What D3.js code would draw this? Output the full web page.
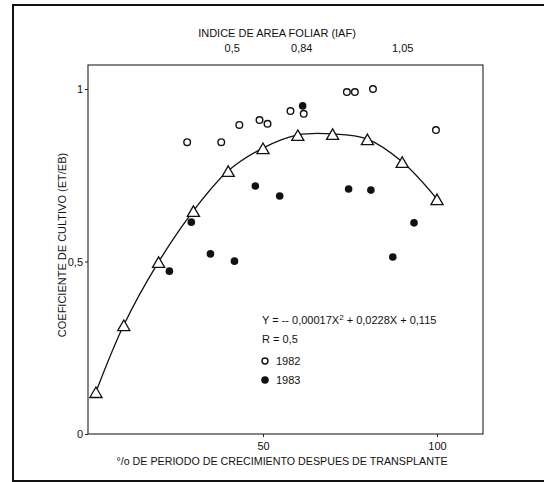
<!DOCTYPE html>
<html><head><meta charset="utf-8">
<script src="https://cdn.jsdelivr.net/npm/d3@7"></script>
<style>
html,body{margin:0;padding:0;background:#fff;}
svg text{font-family:"Liberation Sans Narrow","Arial Narrow","Liberation Sans",Arial,sans-serif;fill:#111;}
</style></head>
<body>
<svg id="chart" width="544" height="482"></svg>
<script>
// ---- data ----
const fitX = [2, 10, 20, 30, 40, 50, 60, 70, 80, 90, 100];
const fitY = [0.116, 0.31, 0.493, 0.641, 0.757, 0.823, 0.861, 0.864, 0.849, 0.783, 0.675];

const x1982 = [28.2, 38.0, 43.2, 49.0, 51.3, 57.9, 61.7, 74.1, 76.4, 81.6, 99.7];
const y1982 = [0.846, 0.846, 0.896, 0.91, 0.899, 0.936, 0.928, 0.991, 0.991, 1.0, 0.881];

const x1983 = [23.1, 29.4, 34.9, 41.8, 47.8, 54.8, 61.4, 74.6, 81.0, 87.3, 93.4];
const y1983 = [0.472, 0.614, 0.522, 0.501, 0.719, 0.69, 0.951, 0.71, 0.707, 0.513, 0.612];

const xTicks = [50, 100];
const yTicks = [0, 0.5, 1];
const yTickLabels = ["0", "0,5", "1"];
const iafPos = [41, 61, 90];
const iafLabels = ["0,5", "0,84", "1,05"];

const eqText = "Y = -- 0,00017X";
const eqRest = " + 0,0228X + 0,115";
const rText = "R =  0,5";
const legendYears = ["1982", "1983"];

// ---- layout ----
const svg = d3.select("#chart");
const x = d3.scaleLinear().domain([0, 100]).range([89, 437]);
const y = d3.scaleLinear().domain([0, 1]).range([434, 89]);
const plotL = 88, plotR = 483, plotT = 65, plotB = 434;
const FF = '"Liberation Sans Narrow","Arial Narrow","Liberation Sans",sans-serif';

// outer frame
svg.append("path")
  .attr("d", `M545,5 H13 V481 H545`)
  .attr("fill", "none").attr("stroke", "#111").attr("stroke-width", 2);

// plot box
svg.append("rect")
  .attr("x", plotL).attr("y", plotT)
  .attr("width", plotR - plotL).attr("height", plotB - plotT)
  .attr("fill", "none").attr("stroke", "#222").attr("stroke-width", 1.1);

// bottom axis
const xAxis = d3.axisBottom(x).tickValues(xTicks).tickSize(3).tickFormat(d3.format("d"));
const gx = svg.append("g").attr("transform", `translate(0,${plotB})`).call(xAxis);
gx.select(".domain").remove();
gx.selectAll("line").attr("stroke", "#222");
gx.selectAll("text").attr("font-size", 11).attr("dy", "0.95em").attr("fill", "#111").style("font-family", FF);

// left axis
const yAxis = d3.axisLeft(y).tickValues(yTicks).tickSize(3).tickFormat((d, i) => yTickLabels[i]);
const gy = svg.append("g").attr("transform", `translate(${plotL},0)`).call(yAxis);
gy.select(".domain").remove();
gy.selectAll("line").attr("stroke", "#222");
gy.selectAll("text").attr("font-size", 11).attr("x", -5).attr("fill", "#111").style("font-family", FF);

// top axis (IAF)
const xTop = d3.axisTop(x).tickValues(iafPos).tickSize(0).tickFormat((d, i) => iafLabels[i]);
const gt = svg.append("g").attr("transform", `translate(0,${plotT - 10})`).call(xTop);
gt.select(".domain").remove();
gt.selectAll("text").attr("font-size", 11).attr("fill", "#111").style("font-family", FF);

svg.append("text").attr("x", 277).attr("y", 37).attr("text-anchor", "middle")
  .attr("font-size", 11).text("INDICE DE AREA FOLIAR (IAF)");

svg.append("text").attr("x", 282).attr("y", 465).attr("text-anchor", "middle")
  .attr("font-size", 10.7).text("°/o DE PERIODO DE CRECIMIENTO DESPUES DE TRANSPLANTE");

svg.append("text").attr("transform", "translate(66,245) rotate(-90)").attr("text-anchor", "middle")
  .attr("font-size", 11).text("COEFICIENTE DE CULTIVO (ET/EB)");

// fitted curve through triangles
const fitData = fitX.map((d, i) => [d, fitY[i]]);
svg.append("path").datum(fitData)
  .attr("d", d3.line().x(d => x(d[0])).y(d => y(d[1]) - 2).curve(d3.curveCatmullRom))
  .attr("fill", "none").attr("stroke", "#111").attr("stroke-width", 1.3);

const tri = d3.symbol().type(d3.symbolTriangle).size(64);
svg.append("g").selectAll("path").data(fitData).join("path")
  .attr("transform", d => `translate(${x(d[0])},${y(d[1])})`)
  .attr("d", tri).attr("fill", "#fff").attr("stroke", "#111").attr("stroke-width", 1.3);

// 1982 open circles
svg.append("g").selectAll("circle").data(x1982.map((d, i) => [d, y1982[i]])).join("circle")
  .attr("cx", d => x(d[0])).attr("cy", d => y(d[1])).attr("r", 3.3)
  .attr("fill", "#fff").attr("stroke", "#111").attr("stroke-width", 1.4);

// 1983 filled circles
svg.append("g").selectAll("circle").data(x1983.map((d, i) => [d, y1983[i]])).join("circle")
  .attr("cx", d => x(d[0])).attr("cy", d => y(d[1])).attr("r", 3.8)
  .attr("fill", "#111");

// equation & legend
const eq = svg.append("text").attr("x", 262).attr("y", 324).attr("font-size", 11);
eq.append("tspan").text(eqText);
eq.append("tspan").attr("dy", -4).attr("font-size", 8).text("2");
eq.append("tspan").attr("dy", 4).text(eqRest);

svg.append("text").attr("x", 262).attr("y", 343).attr("font-size", 11).text(rText);

const leg = svg.append("g");
legendYears.forEach((yr, i) => {
  const cy = 361 + i * 19;
  leg.append("circle").attr("cx", 265).attr("cy", cy).attr("r", i === 0 ? 3 : 3.8)
    .attr("fill", i === 0 ? "#fff" : "#111").attr("stroke", "#111").attr("stroke-width", i === 0 ? 1.4 : 0);
  leg.append("text").attr("x", 276).attr("y", cy + 4).attr("font-size", 11).text(yr);
});
</script>
</body></html>
